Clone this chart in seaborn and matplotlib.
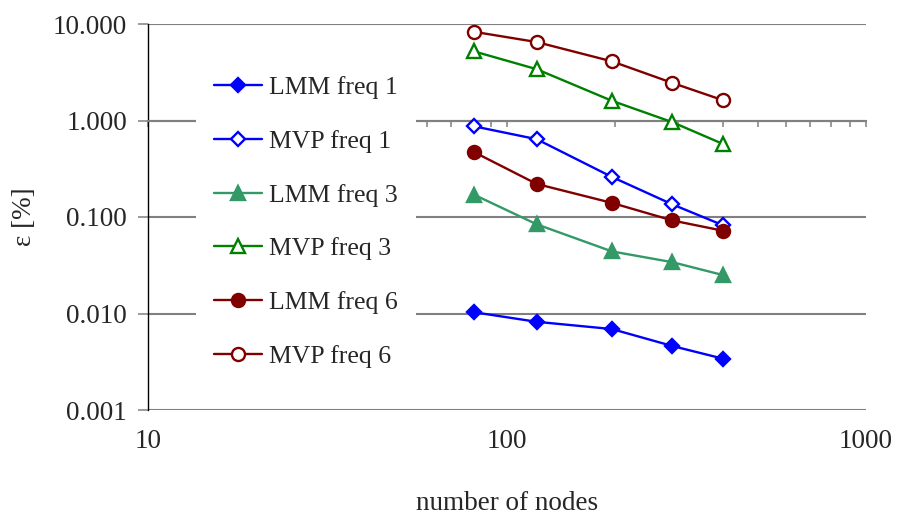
import numpy as np
import pandas as pd
import matplotlib
matplotlib.use('Agg')
import matplotlib.pyplot as plt
import seaborn as sns
from matplotlib.ticker import FixedLocator, NullLocator, LogLocator

# data
nodes = [81, 121, 196, 289, 400]
lmm_freq1 = [0.0103, 0.0082, 0.0069, 0.0046, 0.0034]
mvp_freq1 = [0.87, 0.64, 0.26, 0.135, 0.082]
lmm_freq3 = [0.17, 0.084, 0.044, 0.034, 0.025]
mvp_freq3 = [5.2, 3.4, 1.6, 0.96, 0.57]
lmm_freq6 = [0.47, 0.22, 0.14, 0.092, 0.072]
mvp_freq6 = [8.3, 6.5, 4.1, 2.45, 1.62]

series_names = ['LMM freq 1', 'MVP freq 1', 'LMM freq 3', 'MVP freq 3', 'LMM freq 6', 'MVP freq 6']
series_values = [lmm_freq1, mvp_freq1, lmm_freq3, mvp_freq3, lmm_freq6, mvp_freq6]

y_ticks = [0.001, 0.01, 0.1, 1, 10]
y_tick_labels = ['0.001', '0.010', '0.100', '1.000', '10.000']
x_ticks = [10, 100, 1000]
x_tick_labels = ['10', '100', '1000']

# styles per series: colour, marker, filled, marker size
styles = {
    'LMM freq 1': ('#0000ff', 'D', True, 6.8),
    'MVP freq 1': ('#0000ff', 'D', False, 6.8),
    'LMM freq 3': ('#339966', '^', True, 10),
    'MVP freq 3': ('#008000', '^', False, 10),
    'LMM freq 6': ('#800000', 'o', True, 9.4),
    'MVP freq 6': ('#800000', 'o', False, 9.4),
}

sns.set_theme(style='white')
plt.rcParams['font.family'] = ['Liberation Serif', 'DejaVu Serif']
fs = 19.5
leg_fs = 18.5

fig = plt.figure(figsize=(9.02, 5.16), dpi=100)
ax = fig.add_axes([148 / 902, 1 - 410 / 516, (866 - 148) / 902, (410 - 24) / 516])

for name, vals in zip(series_names, series_values):
    color, marker, filled, ms = styles[name]
    sns.lineplot(x=nodes, y=vals, ax=ax, color=color, marker=marker, ms=ms,
                 mfc=color if filled else 'white', mec=color, mew=1.7,
                 lw=1.7, label=name, zorder=3)

ax.set_xscale('log')
ax.set_yscale('log')
ax.set_xlim(10, 1000)
ax.set_ylim(0.001, 10)

# horizontal gridlines
ax.yaxis.set_major_locator(FixedLocator(y_ticks))
ax.set_yticklabels(y_tick_labels)
ax.yaxis.set_minor_locator(NullLocator())
ax.grid(axis='y', which='major', color='#808080', lw=1.5)
ax.grid(axis='x', visible=False)
ax.tick_params(axis='y', which='major', left=True, length=7.2, width=1.1,
               color='#808080', pad=8, labelsize=fs)

# x axis crosses at y = 1 (Excel style), ticks only there
ax.spines['bottom'].set_position(('data', 1))
ax.spines['bottom'].set_color('#808080')
ax.spines['bottom'].set_linewidth(1.5)
ax.spines['top'].set_visible(False)
ax.spines['right'].set_visible(False)
ax.spines['left'].set_color('black')
ax.spines['left'].set_linewidth(1.0)
ax.xaxis.set_major_locator(FixedLocator(x_ticks))
ax.xaxis.set_minor_locator(LogLocator(base=10, subs=np.arange(2, 10)))
ax.tick_params(axis='x', which='both', bottom=True, direction='out', length=4,
               width=1.1, color='#808080', labelbottom=False)

# tick labels and title at the bottom edge
sec = ax.secondary_xaxis('bottom')
sec.xaxis.set_major_locator(FixedLocator(x_ticks))
sec.set_xticklabels(x_tick_labels)
sec.xaxis.set_minor_locator(NullLocator())
sec.tick_params(length=0, pad=14, labelsize=fs)
sec.spines['bottom'].set_visible(False)
sec.set_xlabel('number of nodes', fontsize=fs, labelpad=26)

ax.set_ylabel('ε [%]', fontsize=fs, labelpad=11)

leg = ax.legend(loc='upper left', bbox_to_anchor=(196 / 902, 1 - 58 / 516),
                bbox_transform=fig.transFigure, borderaxespad=0, frameon=True,
                facecolor='white', edgecolor='none', framealpha=1, fancybox=False,
                fontsize=leg_fs, borderpad=0.7, labelspacing=1.2, handlelength=1.87,
                handletextpad=0.27)
leg.set_zorder(5)

fig.savefig('out.png', dpi=100)
